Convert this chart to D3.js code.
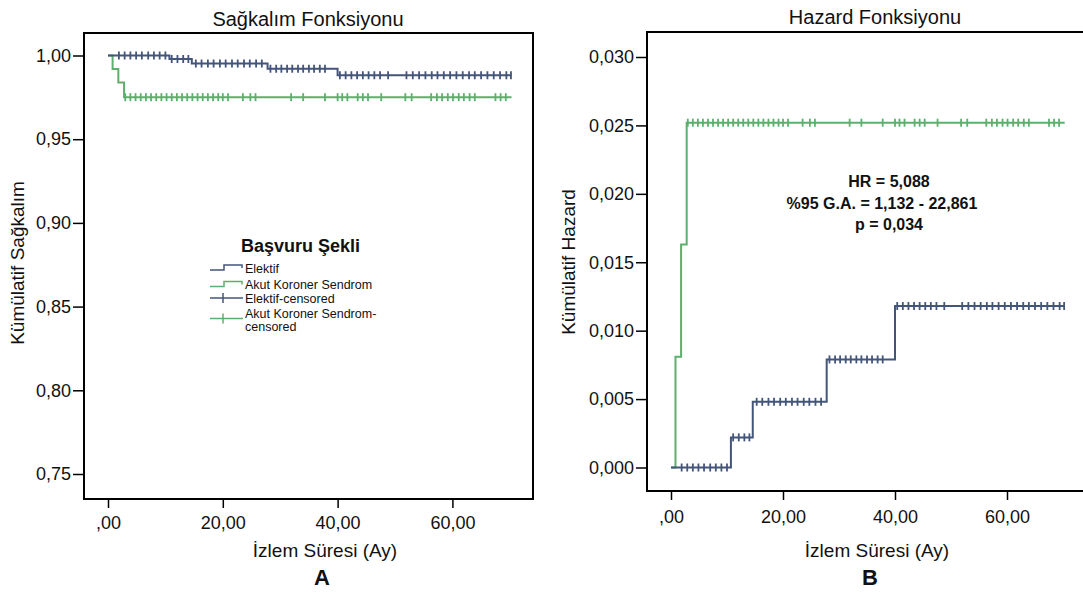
<!DOCTYPE html>
<html>
<head>
<meta charset="utf-8">
<script src="https://cdn.jsdelivr.net/npm/d3@7"></script>
<style>
  html, body { margin: 0; padding: 0; background: #fff; }
  svg { display: block; font-family: "Liberation Sans", Arial, sans-serif; }
</style>
</head>
<body>
<svg id="chart" width="1083" height="592"></svg>
<script>
// Follow-up groups
const groups = ["Elektif", "Akut Koroner Sendrom"];

// Elektif: event times (months) and step values
const elektifTimes    = [0, 10.7, 14.6, 27.8, 40.0];
const elektifSurvival = [1.0, 0.9979, 0.9952, 0.9921, 0.9882];
const elektifHazard   = [0, 0.0022, 0.0048, 0.0079, 0.0118];

// Akut Koroner Sendrom: event times (months) and step values
const aksTimes    = [0, 0.8, 1.8, 2.8];
const aksSurvival = [1.0, 0.9919, 0.9838, 0.9751];
const aksHazard   = [0, 0.0081, 0.0163, 0.0252];

// End of follow-up for both curves
const followUpEnd = 70.3;

// Censored observations (months)
const elektifCensored = [1.9, 2.9, 3.9, 4.9, 5.9, 7.0, 8.0, 9.0, 10.0,
  11.1, 12.1, 13.1, 14.0,
  15.3, 16.3, 17.4, 18.4, 19.5, 20.5, 21.6, 22.6, 23.7, 24.7, 25.8, 26.8,
  28.3, 29.3, 30.2, 31.2, 32.1, 33.1, 34.0, 35.0, 35.9, 36.9, 37.8,
  40.4, 41.4, 42.4, 43.4, 44.4, 45.4, 46.4, 47.4, 48.8,
  52.0, 53.1, 54.2, 55.3, 56.4, 57.4, 58.5, 59.6, 60.7, 61.8, 62.9, 63.9,
  65.0, 66.1, 67.2, 68.3, 69.4, 70.2];
const aksCensored = [3.0, 3.9, 4.8, 5.7, 6.6, 7.5, 8.4, 9.3, 10.2, 11.1, 12.0,
  12.9, 13.8, 14.7, 15.6, 16.5, 17.4, 18.3, 19.2, 20.0, 20.9,
  23.5, 24.8, 25.7, 31.9, 34.0, 37.8, 40.0, 40.8, 41.7, 43.5, 44.4, 45.3,
  47.6, 51.8, 52.9, 56.3, 57.3, 58.2, 59.2, 60.1, 61.1, 62.0, 63.0, 63.9,
  67.5, 68.4, 69.3];

// Axis ticks
const xTicks = [0, 20, 40, 60];
const xTickLabels = [",00", "20,00", "40,00", "60,00"];
const survTicks = [0.75, 0.80, 0.85, 0.90, 0.95, 1.00];
const survTickLabels = ["0,75", "0,80", "0,85", "0,90", "0,95", "1,00"];
const hazTicks = [0, 0.005, 0.010, 0.015, 0.020, 0.025, 0.030];
const hazTickLabels = ["0,000", "0,005", "0,010", "0,015", "0,020", "0,025", "0,030"];

// Annotation
const statLines = ["HR = 5,088", "%95 G.A. = 1,132 - 22,861", "p = 0,034"];

const BLUE = "#44557a";
const GREEN = "#5caf6c";

const svg = d3.select("#chart");

function drawPanel(cfg) {
  const g = svg.append("g");
  const x = d3.scaleLinear().domain([0, 60]).range(cfg.xRange);
  const y = d3.scaleLinear().domain(cfg.yDomain).range(cfg.yRange);
  const f = cfg.frame;

  // frame
  g.append("rect")
    .attr("x", f.x0).attr("y", f.y0)
    .attr("width", f.x1 - f.x0).attr("height", f.y1 - f.y0)
    .attr("fill", "none").attr("stroke", "#000").attr("stroke-width", 2);

  // y axis
  const ya = g.append("g").attr("transform", `translate(${f.x0},0)`)
    .call(d3.axisLeft(y).tickValues(cfg.yTicks)
      .tickFormat((d, i) => cfg.yLabels[i]).tickSize(11).tickPadding(2));
  ya.select(".domain").remove();
  ya.selectAll("line").attr("stroke", "#000").attr("stroke-width", 1.5);
  ya.selectAll("text").attr("font-size", 18).attr("fill", "#111")
    .attr("font-family", "Liberation Sans, Arial, sans-serif");

  // x axis
  const xa = g.append("g").attr("transform", `translate(0,${f.y1})`)
    .call(d3.axisBottom(x).tickValues(xTicks)
      .tickFormat((d, i) => xTickLabels[i]).tickSize(9).tickPadding(cfg.xPad));
  xa.select(".domain").remove();
  xa.selectAll("line").attr("stroke", "#000").attr("stroke-width", 1.5);
  xa.selectAll("text").attr("font-size", 18).attr("fill", "#111")
    .attr("font-family", "Liberation Sans, Arial, sans-serif");

  // curves
  const line = d3.line().curve(d3.curveStepAfter)
    .x(d => x(d[0])).y(d => y(d[1]));
  cfg.series.forEach(s => {
    const pts = s.times.map((t, i) => [t, s.values[i]]);
    pts.push([followUpEnd, s.values[s.values.length - 1]]);
    g.append("path").datum(pts)
      .attr("d", line).attr("fill", "none")
      .attr("stroke", s.color).attr("stroke-width", 2);
    // censor marks
    g.append("g").selectAll("line").data(s.censored).join("line")
      .attr("x1", t => x(t)).attr("x2", t => x(t))
      .attr("y1", t => y(s.values[d3.bisectRight(s.times, t) - 1]) - 4)
      .attr("y2", t => y(s.values[d3.bisectRight(s.times, t) - 1]) + 4)
      .attr("stroke", s.color).attr("stroke-width", 1.8);
  });

  // titles
  g.append("text").attr("x", cfg.titleX).attr("y", cfg.titleY)
    .attr("text-anchor", "middle").attr("font-size", 20).attr("fill", "#111")
    .text(cfg.title);
  g.append("text").attr("x", cfg.xTitleX).attr("y", 557)
    .attr("text-anchor", "middle").attr("font-size", 19).attr("fill", "#111")
    .text("İzlem Süresi (Ay)");
  g.append("text")
    .attr("transform", `translate(${cfg.yTitleX},${cfg.yTitleY}) rotate(-90)`)
    .attr("text-anchor", "middle").attr("font-size", 19).attr("fill", "#111")
    .text(cfg.yTitle);
  g.append("text").attr("x", cfg.letterX).attr("y", 585)
    .attr("text-anchor", "middle").attr("font-size", 22).attr("font-weight", "bold")
    .attr("fill", "#111").text(cfg.letter);

  return { g, x, y };
}

// Survival panel
const left = drawPanel({
  frame: { x0: 84, x1: 533, y0: 33, y1: 499 },
  xRange: [108, 452.4],
  yDomain: [0.75, 1.0], yRange: [474, 55.5],
  yTicks: survTicks, yLabels: survTickLabels,
  xPad: 8,
  series: [
    { times: aksTimes, values: aksSurvival, censored: aksCensored, color: GREEN },
    { times: elektifTimes, values: elektifSurvival, censored: elektifCensored, color: BLUE }
  ],
  title: "Sağkalım Fonksiyonu", titleX: 308, titleY: 26,
  xTitleX: 325, yTitle: "Kümülatif Sağkalım", yTitleX: 24, yTitleY: 263,
  letter: "A", letterX: 322
});

// Hazard panel
const right = drawPanel({
  frame: { x0: 647, x1: 1101, y0: 32, y1: 491 },
  xRange: [671, 1007],
  yDomain: [0, 0.03], yRange: [467.5, 57],
  yTicks: hazTicks, yLabels: hazTickLabels,
  xPad: 10,
  series: [
    { times: aksTimes, values: aksHazard, censored: aksCensored, color: GREEN },
    { times: elektifTimes, values: elektifHazard, censored: elektifCensored, color: BLUE }
  ],
  title: "Hazard Fonksiyonu", titleX: 875, titleY: 24,
  xTitleX: 877, yTitle: "Kümülatif Hazard", yTitleX: 575, yTitleY: 262,
  letter: "B", letterX: 870
});

// HR annotation
right.g.append("g").selectAll("text").data(statLines).join("text")
  .attr("x", (d, i) => i === 1 ? 882 : 889)
  .attr("y", (d, i) => 187 + i * 21.5)
  .attr("text-anchor", "middle").attr("font-size", 16).attr("font-weight", "bold")
  .attr("fill", "#111").text(d => d);

// Legend
const lg = left.g.append("g");
lg.append("text").attr("x", 241).attr("y", 252)
  .attr("font-size", 18).attr("font-weight", "bold").attr("fill", "#111")
  .text("Başvuru Şekli");
const legendItems = [
  { label: [groups[0]], color: BLUE, kind: "step", y: 272.5 },
  { label: [groups[1]], color: GREEN, kind: "step", y: 289 },
  { label: [groups[0] + "-censored"], color: BLUE, kind: "cens", y: 302.5 },
  { label: [groups[1] + "-", "censored"], color: GREEN, kind: "cens", y: 318 }
];
legendItems.forEach(it => {
  const cy = it.y - 4.5;
  if (it.kind === "step") {
    lg.append("path")
      .attr("d", `M210,${cy + 2} H224 V${cy - 3} H242 V${cy}`)
      .attr("fill", "none").attr("stroke", it.color).attr("stroke-width", 1.5);
  } else {
    const ly = it.label.length > 1 ? cy + 5 : cy;
    lg.append("line").attr("x1", 210).attr("x2", 243).attr("y1", ly).attr("y2", ly)
      .attr("stroke", it.color).attr("stroke-width", 1.5);
    lg.append("line").attr("x1", 223).attr("x2", 223).attr("y1", ly - 5).attr("y2", ly + 5)
      .attr("stroke", it.color).attr("stroke-width", 1.5);
  }
  it.label.forEach((t, k) => {
    lg.append("text").attr("x", 245).attr("y", it.y + k * 12.5)
      .attr("font-size", 12.5).attr("fill", "#111").text(t);
  });
});
</script>
</body>
</html>
